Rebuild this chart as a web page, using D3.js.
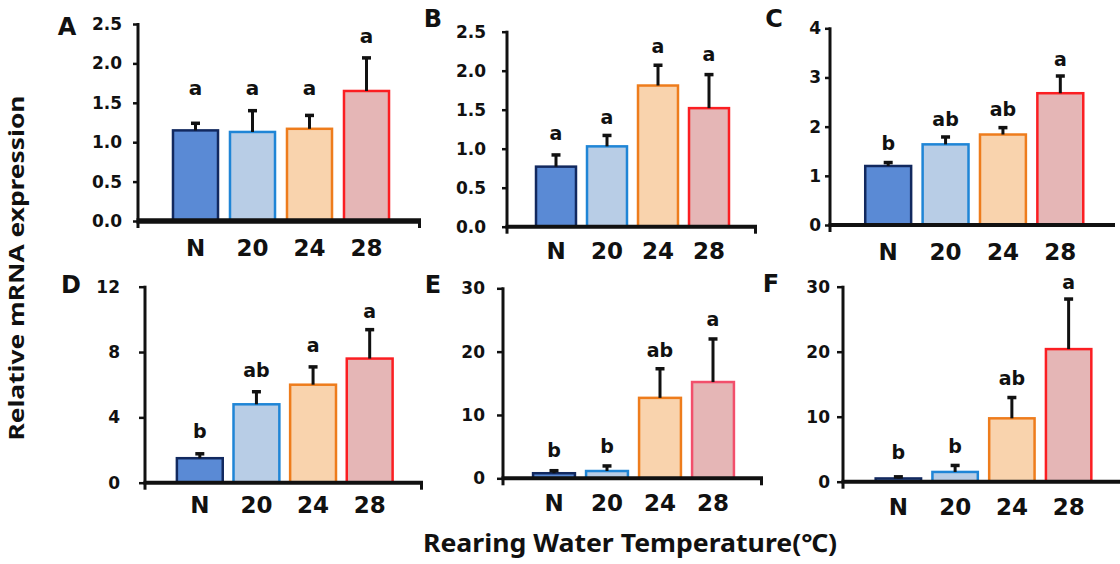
<!DOCTYPE html>
<html>
<head>
<meta charset="utf-8">
<script src="https://cdn.jsdelivr.net/npm/d3@7"></script>
<style>
  body { margin: 0; background: #fff; }
  text { font-family: "DejaVu Sans", sans-serif; font-weight: bold; fill: #111; }
</style>
</head>
<body>
<svg id="chart" width="1120" height="564"></svg>
<script>
// ---- data ----
const categories = ['N', '20', '24', '28'];
const panelLetters = ['A', 'B', 'C', 'D', 'E', 'F'];
const yMaxes = [2.5, 2.5, 4, 12, 30, 30];
const yTickValues = [
  [0, 0.5, 1, 1.5, 2, 2.5],
  [0, 0.5, 1, 1.5, 2, 2.5],
  [0, 1, 2, 3, 4],
  [0, 4, 8, 12],
  [0, 10, 20, 30],
  [0, 10, 20, 30]
];
const tickFormats = ['.1f', '.1f', 'd', 'd', 'd', 'd'];
const means = [
  [1.15, 1.13, 1.17, 1.65],
  [0.77, 1.03, 1.81, 1.52],
  [1.20, 1.64, 1.84, 2.68],
  [1.50, 4.80, 6.00, 7.60],
  [0.80, 1.15, 12.7, 15.2],
  [0.50, 1.50, 9.75, 20.4]
];
const errors = [
  [0.09, 0.27, 0.17, 0.42],
  [0.15, 0.14, 0.26, 0.43],
  [0.07, 0.15, 0.14, 0.35],
  [0.27, 0.77, 1.09, 1.77],
  [0.40, 0.80, 4.60, 6.80],
  [0.25, 1.00, 3.20, 7.70]
];
const sigLetters = [
  ['a', 'a', 'a', 'a'],
  ['a', 'a', 'a', 'a'],
  ['b', 'ab', 'ab', 'a'],
  ['b', 'ab', 'a', 'a'],
  ['b', 'b', 'ab', 'a'],
  ['b', 'b', 'ab', 'a']
];
// height (in data units) at which each letter sits
const sigLevels = [
  [1.67, 1.67, 1.67, 2.33],
  [1.18, 1.39, 2.30, 2.20],
  [1.64, 2.13, 2.32, 3.35],
  [3.06, 6.80, 8.33, 10.43],
  [4.20, 4.90, 20.1, 24.85],
  [4.37, 5.23, 15.8, 30.5]
];
const yTitle = 'Relative mRNA expression';
const xTitle = 'Rearing Water Temperature(\u2103)';

// ---- styles ----
const fills = ['#5a8ad5', '#b8cde6', '#f9d3ad', '#e5b6b6'];
const strokes = ['#12295f', '#1f85d6', '#ee7c1c', '#fb1e22'];
const strokeE28 = '#f24f6b';

// panel placement (pixels)
const layout = [
  {ax: 138, y0: 221,   yTop: 24,    xEnd: 421,  endTick: true,  b0: 167,   b1: 395,   pad: 0.21,  lab: 16, tick: 5, xw: 5.5, catDy: 27, lx: 67,  ly: 35},
  {ax: 507, y0: 226.7, yTop: 31.7,  xEnd: 757,  endTick: true,  b0: 530.5, b1: 734.5, pad: 0.216, lab: 21, tick: 5, xw: 4,   catDy: 24, lx: 433, ly: 27},
  {ax: 830, y0: 225,   yTop: 28.3,  xEnd: 1115, endTick: false, b0: 859.5, b1: 1089,  pad: 0.2,   lab: 9,  tick: 5, xw: 4,   catDy: 27, lx: 774, ly: 27},
  {ax: 145, y0: 482.7, yTop: 286.7, xEnd: 423,  endTick: true,  b0: 171.5, b1: 398,   pad: 0.19,  lab: 25, tick: 6, xw: 4,   catDy: 22, lx: 71,  ly: 293},
  {ax: 503, y0: 478.3, yTop: 288.3, xEnd: 763,  endTick: true,  b0: 527.5, b1: 739.5, pad: 0.21,  lab: 18, tick: 6, xw: 4,   catDy: 24, lx: 433, ly: 293},
  {ax: 843, y0: 481.7, yTop: 286.7, xEnd: 1120, endTick: false, b0: 870,   b1: 1097,  pad: 0.2,   lab: 13, tick: 6, xw: 4,   catDy: 25, lx: 771, ly: 292}
];

const svg = d3.select('#chart');

panelLetters.forEach((letter, p) => {
  const L = layout[p];
  const g = svg.append('g');

  const x = d3.scaleBand()
    .domain(categories)
    .range([L.b0, L.b1])
    .paddingInner(L.pad)
    .paddingOuter(L.pad / 2);

  const y = d3.scaleLinear()
    .domain([0, yMaxes[p]])
    .range([L.y0, L.yTop]);

  // y axis ticks + labels
  const yAxis = d3.axisLeft(y)
    .tickValues(yTickValues[p])
    .tickFormat(d3.format(tickFormats[p]))
    .tickSize(L.tick)
    .tickSizeOuter(0)
    .tickPadding(L.lab - L.tick);
  const ya = g.append('g')
    .attr('transform', `translate(${L.ax},0)`)
    .call(yAxis);
  ya.select('.domain').remove();
  ya.selectAll('.tick line').attr('stroke', '#111').attr('stroke-width', 2.5);
  ya.selectAll('.tick text')
    .style('font-family', '"DejaVu Sans", sans-serif')
    .style('font-weight', 'bold')
    .style('font-size', '17px')
    .attr('fill', '#111');

  // bars
  g.selectAll('rect.bar')
    .data(categories)
    .join('rect')
    .attr('class', 'bar')
    .attr('x', d => x(d))
    .attr('width', x.bandwidth())
    .attr('y', (d, i) => y(means[p][i]))
    .attr('height', (d, i) => L.y0 - y(means[p][i]))
    .attr('fill', (d, i) => fills[i])
    .attr('stroke', (d, i) => (p === 4 && i === 3) ? strokeE28 : strokes[i])
    .attr('stroke-width', 2.5);

  // error bars (upper only)
  const eb = g.selectAll('g.err')
    .data(categories)
    .join('g')
    .attr('class', 'err');
  eb.append('line')
    .attr('x1', d => x(d) + x.bandwidth() / 2)
    .attr('x2', d => x(d) + x.bandwidth() / 2)
    .attr('y1', (d, i) => y(means[p][i]))
    .attr('y2', (d, i) => y(means[p][i] + errors[p][i]))
    .attr('stroke', '#111')
    .attr('stroke-width', 3);
  eb.append('line')
    .attr('x1', d => x(d) + x.bandwidth() / 2 - 4.5)
    .attr('x2', d => x(d) + x.bandwidth() / 2 + 4.5)
    .attr('y1', (d, i) => y(means[p][i] + errors[p][i]))
    .attr('y2', (d, i) => y(means[p][i] + errors[p][i]))
    .attr('stroke', '#111')
    .attr('stroke-width', 3.5);

  // significance letters
  g.selectAll('text.sig')
    .data(categories)
    .join('text')
    .attr('class', 'sig')
    .attr('x', d => x(d) + x.bandwidth() / 2)
    .attr('y', (d, i) => y(sigLevels[p][i]))
    .attr('text-anchor', 'middle')
    .attr('dominant-baseline', 'middle')
    .style('font-size', p === 0 ? '20px' : '19px')
    .text((d, i) => sigLetters[p][i]);

  // x axis line (thick) with small end tick
  g.append('line')
    .attr('x1', L.ax - 1.5).attr('x2', L.xEnd)
    .attr('y1', L.y0).attr('y2', L.y0)
    .attr('stroke', '#111').attr('stroke-width', L.xw);
  if (L.endTick) {
    g.append('line')
      .attr('x1', L.xEnd - 1.5).attr('x2', L.xEnd - 1.5)
      .attr('y1', L.y0).attr('y2', L.y0 + 7)
      .attr('stroke', '#111').attr('stroke-width', 3);
  }
  // y axis line, running a little below the x axis
  g.append('line')
    .attr('x1', L.ax).attr('x2', L.ax)
    .attr('y1', L.yTop - 1).attr('y2', L.y0 + 7)
    .attr('stroke', '#111').attr('stroke-width', 3);

  // category labels
  const xAxis = d3.axisBottom(x).tickSize(0).tickPadding(0);
  const xa = g.append('g')
    .attr('transform', `translate(0,${L.y0 + L.catDy})`)
    .call(xAxis);
  xa.select('.domain').remove();
  xa.selectAll('.tick text')
    .attr('dy', '0.36em')
    .attr('y', 0)
    .style('font-family', '"DejaVu Sans", sans-serif')
    .style('font-weight', 'bold')
    .style('font-size', '23px')
    .attr('fill', '#111');

  // panel letter
  g.append('text')
    .attr('x', L.lx)
    .attr('y', L.ly)
    .attr('text-anchor', 'middle')
    .style('font-size', '24px')
    .text(letter);
});

// axis titles
svg.append('text')
  .attr('transform', 'translate(24,268) rotate(-90)')
  .attr('text-anchor', 'middle')
  .attr('textLength', 345)
  .attr('lengthAdjust', 'spacingAndGlyphs')
  .style('font-family', '"Noto Sans", sans-serif')
  .style('font-size', '22px')
  .text(yTitle);

svg.append('text')
  .attr('x', 630)
  .attr('y', 552)
  .attr('text-anchor', 'middle')
  .attr('textLength', 414)
  .attr('lengthAdjust', 'spacingAndGlyphs')
  .style('font-family', '"Noto Sans", sans-serif')
  .style('font-size', '25px')
  .text(xTitle);
</script>
</body>
</html>
